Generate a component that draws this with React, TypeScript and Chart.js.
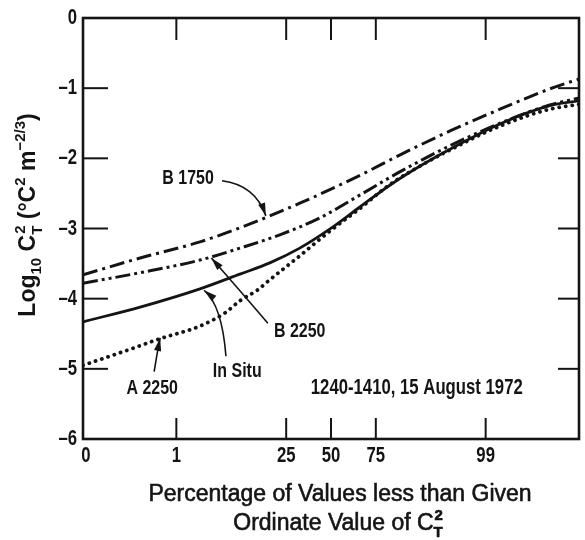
import React, { useEffect, useRef } from "react";
import { Chart, registerables } from "chart.js";

Chart.register(...registerables);

// x values are in probit units (standard normal quantile of the cumulative percentage)
const X_MIN = -3.73;
const X_MAX = 3.73;
const xTickProbit = [-3.73, -2.326, -0.674, 0, 0.674, 2.326];
const xTickLabels = ["0", "1", "25", "50", "75", "99"];
const Y_MIN = -6;
const Y_MAX = 0;

const b1750X = [-3.73, -2.87, -1.97, -1.37, -0.47, 0.44, 1.04, 1.79, 2.54, 3.29, 3.73];
const b1750Y = [-3.66, -3.42, -3.19, -2.99, -2.64, -2.24, -1.95, -1.61, -1.3, -1.01, -0.87];

const b2250X = [-3.73, -2.87, -1.97, -1.37, -0.77, -0.17, 0.44, 1.04, 1.79, 2.54, 3.29, 3.73];
const b2250Y = [-3.78, -3.63, -3.45, -3.28, -3.09, -2.85, -2.52, -2.19, -1.82, -1.5, -1.24, -1.14];

const inSituX = [-3.73, -2.87, -1.97, -1.37, -0.92, -0.47, -0.02, 0.44, 0.89, 1.34, 1.79, 2.54, 3.29, 3.73];
const inSituY = [-4.33, -4.12, -3.86, -3.65, -3.49, -3.28, -3.01, -2.69, -2.38, -2.11, -1.87, -1.51, -1.25, -1.18];

const a2250X = [-3.73, -3.17, -2.57, -1.97, -1.59, -1.37, -1.11, -0.92, -0.47, -0.02, 0.44, 0.89, 1.34, 1.79, 2.54, 3.29, 3.73];
const a2250Y = [-4.95, -4.77, -4.57, -4.39, -4.2, -4.03, -3.88, -3.73, -3.39, -3.04, -2.71, -2.37, -2.11, -1.88, -1.54, -1.3, -1.23];

const seriesNames = ["B 1750", "B 2250", "In Situ", "A 2250"];
const dateLabel = "1240-1410, 15 August 1972";

// label callouts, in data units: text centre, arrow start, arrow bend, arrow tip
const callouts = [
  { text: "B 1750", tx: -2.15, ty: -2.28, sx: -1.64, sy: -2.32, cx: -1.14, cy: -2.38, ex: -0.98, ey: -2.82 },
  { text: "B 2250", tx: -0.47, ty: -4.47, sx: -0.95, sy: -4.35, cx: -1.4, cy: -3.85, ex: -1.8, ey: -3.42 },
  { text: "In Situ", tx: -1.41, ty: -5.04, sx: -1.58, sy: -4.82, cx: -1.64, cy: -4.09, ex: -1.91, ey: -3.88 },
  { text: "A 2250", tx: -2.69, ty: -5.27, sx: -2.66, sy: -5.04, cx: -2.62, cy: -4.8, ex: -2.57, ey: -4.56 },
];
const dateAt = { x: 1.29, y: -5.27 };

const SANS = '"Liberation Sans", Arial, sans-serif';
const INK = "#141414";
const CONDENSE = 0.76;

const zip = (xs: number[], ys: number[]) => xs.map((x, i) => ({ x, y: ys[i] }));

type Seg = { t: string; k: "n" | "sub" | "sup" | "stack"; t2?: string };

function drawRich(ctx: CanvasRenderingContext2D, segs: Seg[], cx: number, base: number, size: number, weight: string, thicken: number) {
  const main = `${weight} ${size}px ${SANS}`;
  const small = `bold ${Math.round(size * 0.66)}px ${SANS}`;
  const widths = segs.map((s) => {
    if (s.k === "n") { ctx.font = main; return ctx.measureText(s.t).width; }
    ctx.font = small;
    if (s.k === "stack") return Math.max(ctx.measureText(s.t).width, ctx.measureText(s.t2 || "").width);
    return ctx.measureText(s.t).width;
  });
  const total = widths.reduce((a, b) => a + b, 0);
  let x = cx - total / 2;
  ctx.textAlign = "left";
  ctx.textBaseline = "alphabetic";
  ctx.lineWidth = thicken;
  ctx.lineJoin = "round";
  const put = (t: string, px: number, py: number) => {
    ctx.fillText(t, px, py);
    if (thicken > 0) ctx.strokeText(t, px, py);
  };
  segs.forEach((s, i) => {
    if (s.k === "n") { ctx.font = main; put(s.t, x, base); }
    else {
      ctx.font = small;
      if (s.k === "sub") put(s.t, x, base + size * 0.28);
      else if (s.k === "sup") put(s.t, x, base - size * 0.45);
      else { put(s.t, x, base + size * 0.3); put(s.t2 || "", x + 1, base - size * 0.45); }
    }
    x += widths[i];
  });
}

// condensed bold text (imitates the narrow gothic face of the original)
function drawNarrow(ctx: CanvasRenderingContext2D, text: string, x: number, y: number, size: number, align: CanvasTextAlign) {
  ctx.save();
  ctx.translate(x, y);
  ctx.scale(CONDENSE, 1);
  ctx.font = `bold ${size}px ${SANS}`;
  ctx.textAlign = align;
  ctx.textBaseline = "middle";
  ctx.fillText(text, 0, 0);
  ctx.restore();
}

const yTitle: Seg[] = [
  { t: "Log", k: "n" }, { t: "10", k: "sub" }, { t: " C", k: "n" }, { t: "T", k: "stack", t2: "2" },
  { t: " (°C", k: "n" }, { t: "2", k: "sup" }, { t: " m", k: "n" }, { t: "−2/3", k: "sup" }, { t: ")", k: "n" },
];
const xTitle1: Seg[] = [{ t: "Percentage of Values less than Given", k: "n" }];
const xTitle2: Seg[] = [{ t: "Ordinate Value of C", k: "n" }, { t: "T", k: "stack", t2: "2" }];

const overlay = {
  id: "overlay",
  afterDraw(chart: any) {
    const { ctx, chartArea: ca, scales } = chart;
    const xs = scales.x;
    const ys = scales.y;
    const X = (v: number) => xs.getPixelForValue(v);
    const Y = (v: number) => ys.getPixelForValue(v);
    ctx.save();
    ctx.strokeStyle = INK;
    ctx.fillStyle = INK;
    // frame
    ctx.lineWidth = 2.6;
    ctx.strokeRect(ca.left, ca.top, ca.right - ca.left, ca.bottom - ca.top);
    // inner tick marks + tick labels
    ctx.lineWidth = 2;
    const seg = (a: number, b: number, c: number, d: number) => { ctx.beginPath(); ctx.moveTo(a, b); ctx.lineTo(c, d); ctx.stroke(); };
    ys.ticks.forEach((t: any) => {
      const py = Y(t.value);
      const lbl = t.value === 0 ? "0" : "\u2013" + Math.abs(t.value);
      drawNarrow(ctx, lbl, ca.left - 6, py, 22, "right");
      if (t.value <= Y_MIN || t.value >= Y_MAX) return;
      seg(ca.left, py, ca.left + 25, py);
      seg(ca.right - 21, py, ca.right, py);
    });
    xs.ticks.forEach((t: any, i: number) => {
      const px = X(t.value);
      drawNarrow(ctx, xTickLabels[i], px + (i === 0 ? 3 : 0), ca.bottom + 17, 22, "center");
      if (t.value <= X_MIN || t.value >= X_MAX) return;
      seg(px, ca.bottom, px, ca.bottom - 21);
      seg(px, ca.top, px, ca.top + 22);
    });
    // callouts
    callouts.forEach((c) => {
      drawNarrow(ctx, c.text, X(c.tx), Y(c.ty), 21, "center");
      const sx = X(c.sx), sy = Y(c.sy), qx = X(c.cx), qy = Y(c.cy), ex = X(c.ex), ey = Y(c.ey);
      ctx.lineWidth = 1.6;
      ctx.beginPath();
      ctx.moveTo(sx, sy);
      ctx.quadraticCurveTo(qx, qy, ex, ey);
      ctx.stroke();
      const ang = Math.atan2(ey - qy, ex - qx);
      const L = 13, W = 3.6;
      ctx.beginPath();
      ctx.moveTo(ex, ey);
      ctx.lineTo(ex - L * Math.cos(ang) + W * Math.sin(ang), ey - L * Math.sin(ang) - W * Math.cos(ang));
      ctx.lineTo(ex - L * Math.cos(ang) - W * Math.sin(ang), ey - L * Math.sin(ang) + W * Math.cos(ang));
      ctx.closePath();
      ctx.fill();
    });
    drawNarrow(ctx, dateLabel, X(dateAt.x), Y(dateAt.y), 22, "center");
    // axis titles
    drawRich(ctx, xTitle1, 340, 501, 23, "normal", 0.6);
    drawRich(ctx, xTitle2, 338, 530, 23, "normal", 0.6);
    ctx.save();
    ctx.translate(35, 215);
    ctx.rotate(-Math.PI / 2);
    drawRich(ctx, yTitle, 0, 0, 23, "bold", 0);
    ctx.restore();
    ctx.restore();
  },
};

export default function App() {
  const ref = useRef<HTMLCanvasElement | null>(null);
  useEffect(() => {
    if (!ref.current) return;
    const common = { pointRadius: 0, borderColor: INK, fill: false, cubicInterpolationMode: "monotone" as const };
    const chart = new Chart(ref.current, {
      type: "line",
      data: {
        datasets: [
          { ...common, label: seriesNames[0], data: zip(b1750X, b1750Y), borderWidth: 3, borderDash: [15, 5, 3, 5] },
          { ...common, label: seriesNames[1], data: zip(b2250X, b2250Y), borderWidth: 3, borderDash: [15, 4, 3, 4, 3, 4] },
          { ...common, label: seriesNames[2], data: zip(inSituX, inSituY), borderWidth: 2.8 },
          { ...common, label: seriesNames[3], data: zip(a2250X, a2250Y), borderWidth: 3.8, borderDash: [0.1, 6.5], borderCapStyle: "round" },
        ],
      },
      options: {
        animation: false,
        responsive: false,
        events: [],
        layout: { padding: { top: 18, right: 6, left: 0, bottom: 0 } },
        plugins: { legend: { display: false }, tooltip: { enabled: false }, title: { display: false } },
        scales: {
          x: {
            type: "linear",
            min: X_MIN,
            max: X_MAX,
            afterBuildTicks: (s: any) => { s.ticks = xTickProbit.map((v) => ({ value: v })); },
            afterFit: (s: any) => { s.height = 101; },
            grid: { display: false, drawTicks: false },
            border: { display: false },
            ticks: { display: false, autoSkip: false },
          },
          y: {
            type: "linear",
            min: Y_MIN,
            max: Y_MAX,
            afterFit: (s: any) => { s.width = 83; },
            grid: { display: false, drawTicks: false },
            border: { display: false },
            ticks: { display: false, stepSize: 1 },
          },
        },
      },
      plugins: [overlay],
    } as any);
    return () => chart.destroy();
  }, []);
  return (
    <div style={{ position: "absolute", left: 0, top: 0, width: 585, height: 540, background: "#fff" }}>
      <canvas ref={ref} width={585} height={540} />
    </div>
  );
}
